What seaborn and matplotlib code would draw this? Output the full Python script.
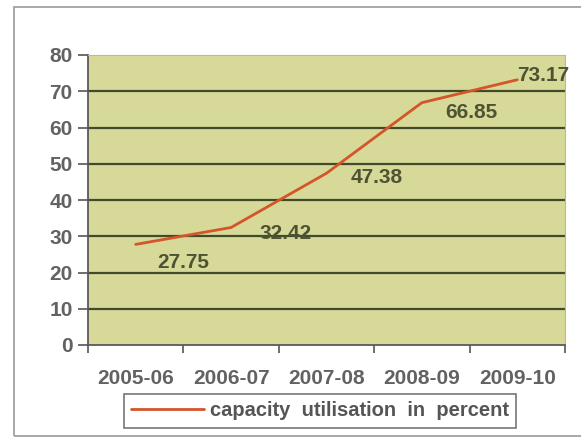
import matplotlib
matplotlib.use("Agg")
import matplotlib.pyplot as plt
import seaborn as sns
import pandas as pd
from matplotlib.patches import Rectangle

years = ["2005-06", "2006-07", "2007-08", "2008-09", "2009-10"]
utilisation = [27.75, 32.42, 47.38, 66.85, 73.17]
y_ticks = [0, 10, 20, 30, 40, 50, 60, 70, 80]
series_name = "capacity  utilisation  in  percent"

df = pd.DataFrame({"year": years, "value": utilisation})

sns.set_theme(style="white")
plt.rcParams["font.family"] = ["Liberation Sans", "DejaVu Sans"]
plt.rcParams["font.weight"] = "bold"

fig = plt.figure(figsize=(5.81, 4.38), dpi=100)
ax = fig.add_axes([88 / 581, 1 - 345 / 438, (565 - 88) / 581, (345 - 55) / 438])
ax.set_facecolor("#d6d997")

# outer frame of the chart
fig.patches.append(Rectangle((14 / 581, 1 - 436 / 438), 1.0, 429 / 438,
                             transform=fig.transFigure, fill=False,
                             edgecolor="#9a9a9a", linewidth=1.2))

for v in y_ticks[1:-1]:
    ax.axhline(v, color="#424a2c", linewidth=1.6, zorder=1)

sns.lineplot(data=df, x="year", y="value", ax=ax, color="#d4552a",
             linewidth=2.0, label=series_name, zorder=3, sort=False)

ax.set_xlim(-0.5, 4.5)
ax.set_ylim(0, 80)
ax.set_yticks(y_ticks)
ax.set_yticklabels([str(v) for v in y_ticks], fontsize=15, color="#626262",
                   fontweight="bold")
ax.set_xticks([i - 0.5 for i in range(len(years) + 1)])
ax.set_xticklabels([])
ax.set_xticks(range(len(years)), minor=True)
ax.set_xticklabels(years, minor=True, fontsize=15, color="#626262",
                   fontweight="bold")
ax.tick_params(axis="x", which="major", direction="out", length=6, width=1.2,
               color="#555555", bottom=True)
ax.tick_params(axis="x", which="minor", length=0, pad=17)
ax.tick_params(axis="y", direction="out", length=7, width=1.2,
               color="#555555", left=True, pad=4)
ax.set_xlabel("")
ax.set_ylabel("")

for side in ["left", "bottom"]:
    ax.spines[side].set_color("#5a5a5a")
    ax.spines[side].set_linewidth(1.3)
for side in ["top", "right"]:
    ax.spines[side].set_color("#b9b9a0")
    ax.spines[side].set_linewidth(0.8)

offsets = [(48, -18), (55, -6), (50, -4), (49, -10), (26, 4)]
for i, (v, off) in enumerate(zip(utilisation, offsets)):
    ax.annotate(f"{v:.2f}", (i, v), xytext=off, textcoords="offset pixels",
                ha="center", va="center", fontsize=15, fontweight="bold",
                color="#4e5334", zorder=4)

leg = ax.legend(loc="center", bbox_to_anchor=(320 / 581, 1 - 411 / 438),
                bbox_transform=fig.transFigure, frameon=True, fancybox=False,
                fontsize=14.5, handlelength=3.6, borderpad=0.35, handletextpad=0.3,
                borderaxespad=0)
leg.get_frame().set_edgecolor("#555555")
leg.get_frame().set_linewidth(1.2)
for t in leg.get_texts():
    t.set_color("#555555")
    t.set_fontweight("bold")

fig.savefig("out.png", dpi=100)
